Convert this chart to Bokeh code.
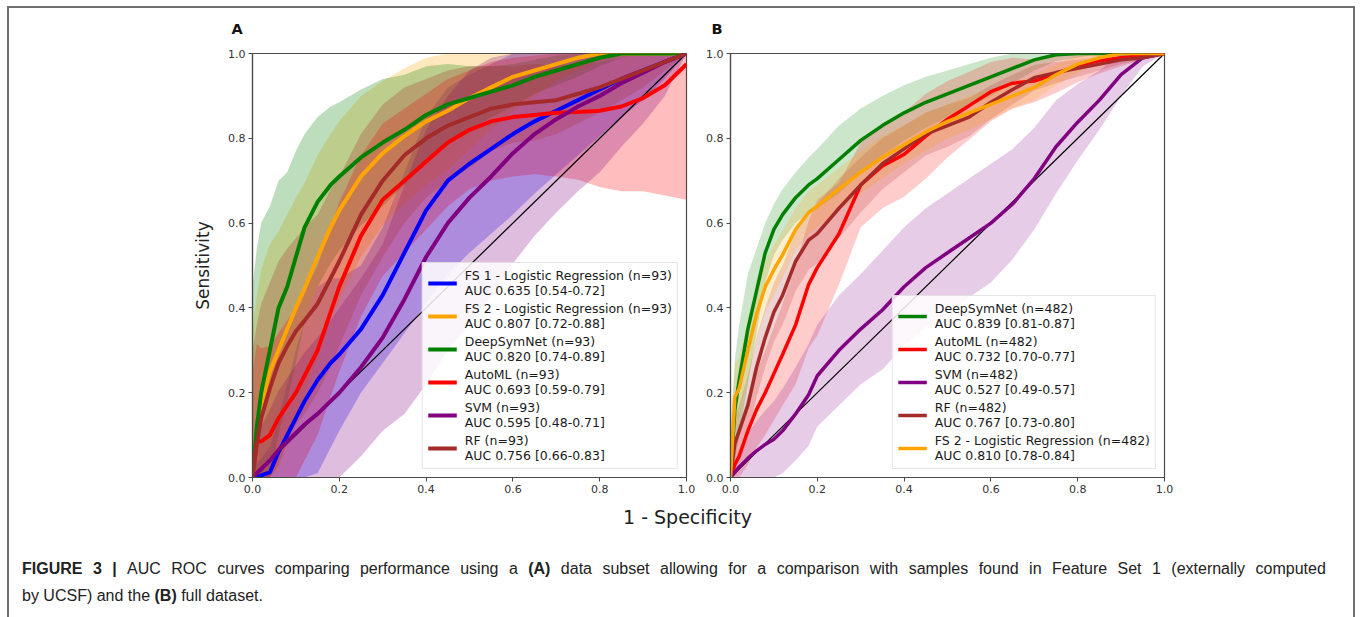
import numpy as np
from bokeh.plotting import figure
from bokeh.models import (Range1d, FixedTicker, PrintfTickFormatter, Legend,
                          LegendItem, Label, Div)
from bokeh.layouts import row, column
from bokeh.embed import file_html
from bokeh.resources import INLINE

# ---------------- data ----------------
fpr = [0, 0.01, 0.02, 0.04, 0.06, 0.08, 0.1, 0.12, 0.15, 0.18, 0.2, 0.25, 0.3,
       0.35, 0.4, 0.45, 0.5, 0.55, 0.6, 0.65, 0.7, 0.75, 0.8, 0.85, 0.9, 0.95, 1.0]
ticks = [0.0, 0.2, 0.4, 0.6, 0.8, 1.0]
chance = [0.0, 1.0]

# Panel A (n=93)
a_fs1 = [0, 0.003, 0.005, 0.012, 0.06, 0.1, 0.14, 0.18, 0.23, 0.27, 0.29, 0.35, 0.43,
         0.53, 0.63, 0.7, 0.74, 0.775, 0.81, 0.84, 0.865, 0.89, 0.915, 0.94, 0.96, 0.98, 1.0]
a_fs1_sd = [0.02, 0.03, 0.04, 0.06, 0.08, 0.12, 0.16, 0.19, 0.22, 0.2, 0.18, 0.15, 0.16,
            0.19, 0.22, 0.22, 0.21, 0.2, 0.19, 0.17, 0.15, 0.13, 0.11, 0.09, 0.07, 0.04, 0]
a_fs2 = [0, 0.1, 0.17, 0.25, 0.3, 0.35, 0.4, 0.445, 0.52, 0.59, 0.63, 0.71, 0.765,
         0.805, 0.84, 0.865, 0.895, 0.92, 0.945, 0.96, 0.975, 0.99, 1, 1, 1, 1, 1]
a_fs2_sd = [0.35, 0.33, 0.32, 0.3, 0.28, 0.27, 0.26, 0.25, 0.24, 0.22, 0.21, 0.19, 0.17,
            0.16, 0.15, 0.14, 0.12, 0.1, 0.08, 0.06, 0.04, 0.03, 0.02, 0.01, 0, 0, 0]
a_dsn = [0, 0.12, 0.2, 0.3, 0.4, 0.45, 0.52, 0.59, 0.65, 0.69, 0.71, 0.755, 0.79,
         0.82, 0.855, 0.88, 0.895, 0.91, 0.925, 0.945, 0.96, 0.975, 0.99, 1.0, 1.0, 1.0, 1.0]
a_dsn_sd = [0.45, 0.42, 0.4, 0.34, 0.3, 0.27, 0.25, 0.22, 0.2, 0.185, 0.175, 0.16, 0.15,
            0.13, 0.115, 0.095, 0.075, 0.06, 0.05, 0.04, 0.035, 0.03, 0.02, 0.01, 0, 0, 0]
a_aml = [0, 0.085, 0.085, 0.1, 0.14, 0.17, 0.2, 0.24, 0.3, 0.39, 0.45, 0.57, 0.655,
         0.7, 0.745, 0.79, 0.82, 0.84, 0.85, 0.855, 0.86, 0.862, 0.865, 0.875, 0.895, 0.925, 0.975]
a_aml_sd = [0.25, 0.23, 0.22, 0.21, 0.2, 0.2, 0.2, 0.2, 0.2, 0.2, 0.2, 0.19, 0.18,
            0.17, 0.16, 0.15, 0.14, 0.14, 0.14, 0.14, 0.15, 0.16, 0.18, 0.2, 0.22, 0.26, 0.32]
a_svm = [0, 0.01, 0.02, 0.04, 0.065, 0.085, 0.105, 0.125, 0.15, 0.18, 0.2, 0.26, 0.33,
         0.42, 0.52, 0.6, 0.66, 0.71, 0.765, 0.81, 0.845, 0.875, 0.9, 0.93, 0.955, 0.98, 1.0]
a_svm_sd = [0.05, 0.08, 0.1, 0.12, 0.14, 0.15, 0.16, 0.17, 0.18, 0.19, 0.2, 0.21, 0.22,
            0.27, 0.3, 0.3, 0.3, 0.28, 0.26, 0.24, 0.22, 0.2, 0.18, 0.15, 0.12, 0.08, 0]
a_rf = [0, 0.08, 0.14, 0.21, 0.27, 0.31, 0.345, 0.37, 0.41, 0.47, 0.51, 0.62, 0.7,
        0.76, 0.8, 0.83, 0.85, 0.87, 0.88, 0.885, 0.89, 0.905, 0.92, 0.94, 0.96, 0.98, 1.0]
a_rf_sd = [0.3, 0.28, 0.27, 0.25, 0.24, 0.23, 0.22, 0.22, 0.21, 0.21, 0.2, 0.19, 0.18,
           0.16, 0.14, 0.13, 0.12, 0.1, 0.09, 0.09, 0.08, 0.07, 0.06, 0.05, 0.04, 0.02, 0]

a_names = ["FS 1 - Logistic Regression (n=93)", "FS 2 - Logistic Regression (n=93)",
           "DeepSymNet (n=93)", "AutoML (n=93)", "SVM (n=93)", "RF (n=93)"]
a_auc = ["AUC 0.635 [0.54-0.72]", "AUC 0.807 [0.72-0.88]", "AUC 0.820 [0.74-0.89]",
         "AUC 0.693 [0.59-0.79]", "AUC 0.595 [0.48-0.71]", "AUC 0.756 [0.66-0.83]"]
a_colors = ["#0000ff", "#ffa500", "#008000", "#ff0000", "#800080", "#a52a2a"]

# Panel B (n=482)
b_dsn = [0, 0.16, 0.23, 0.35, 0.44, 0.53, 0.585, 0.62, 0.66, 0.69, 0.705, 0.75, 0.795,
         0.83, 0.86, 0.885, 0.905, 0.925, 0.945, 0.965, 0.985, 0.997, 1, 1, 1, 1, 1]
b_dsn_sd = [0.1, 0.12, 0.13, 0.13, 0.1, 0.07, 0.06, 0.06, 0.06, 0.065, 0.07, 0.08, 0.075,
            0.07, 0.065, 0.06, 0.055, 0.05, 0.045, 0.035, 0.025, 0.015, 0.01, 0, 0, 0, 0]
b_aml = [0, 0.03, 0.05, 0.11, 0.16, 0.2, 0.245, 0.29, 0.36, 0.455, 0.495, 0.575, 0.69,
         0.735, 0.762, 0.805, 0.845, 0.877, 0.91, 0.93, 0.935, 0.952, 0.972, 0.983, 0.99, 0.995, 1]
b_aml_sd = [0.04, 0.06, 0.07, 0.08, 0.09, 0.1, 0.11, 0.12, 0.14, 0.15, 0.16, 0.12, 0.1,
            0.1, 0.1, 0.1, 0.09, 0.08, 0.07, 0.06, 0.05, 0.045, 0.04, 0.03, 0.02, 0.01, 0]
b_svm = [0, 0.012, 0.025, 0.045, 0.063, 0.078, 0.09, 0.11, 0.15, 0.195, 0.24, 0.3, 0.35,
         0.395, 0.45, 0.495, 0.53, 0.565, 0.6, 0.645, 0.705, 0.78, 0.838, 0.89, 0.95, 0.99, 1]
b_svm_sd = [0.02, 0.03, 0.04, 0.06, 0.07, 0.08, 0.09, 0.1, 0.11, 0.12, 0.12, 0.13, 0.13,
            0.14, 0.14, 0.14, 0.14, 0.14, 0.14, 0.13, 0.12, 0.11, 0.09, 0.07, 0.05, 0.02, 0]
b_rf = [0, 0.08, 0.11, 0.17, 0.26, 0.33, 0.39, 0.43, 0.51, 0.56, 0.575, 0.635, 0.69,
        0.74, 0.775, 0.81, 0.83, 0.85, 0.885, 0.915, 0.943, 0.955, 0.965, 0.975, 0.985, 0.99, 1]
b_rf_sd = [0.06, 0.06, 0.06, 0.07, 0.07, 0.07, 0.07, 0.07, 0.07, 0.07, 0.07, 0.07, 0.065,
           0.06, 0.055, 0.05, 0.05, 0.045, 0.04, 0.035, 0.03, 0.025, 0.02, 0.015, 0.01, 0.005, 0]
b_fs2 = [0, 0.19, 0.21, 0.3, 0.385, 0.45, 0.49, 0.525, 0.585, 0.625, 0.64, 0.68, 0.72,
         0.755, 0.785, 0.815, 0.84, 0.86, 0.88, 0.9, 0.92, 0.95, 0.975, 0.99, 1, 1, 1]
b_fs2_sd = [0.1, 0.08, 0.07, 0.07, 0.06, 0.06, 0.06, 0.055, 0.05, 0.05, 0.05, 0.05, 0.05,
            0.05, 0.045, 0.045, 0.04, 0.04, 0.035, 0.03, 0.03, 0.025, 0.02, 0.01, 0, 0, 0]

b_names = ["DeepSymNet (n=482)", "AutoML (n=482)", "SVM (n=482)", "RF (n=482)",
           "FS 2 - Logistic Regression (n=482)"]
b_auc = ["AUC 0.839 [0.81-0.87]", "AUC 0.732 [0.70-0.77]", "AUC 0.527 [0.49-0.57]",
         "AUC 0.767 [0.73-0.80]", "AUC 0.810 [0.78-0.84]"]
b_colors = ["#008000", "#ff0000", "#800080", "#a52a2a", "#ffa500"]

panel_letters = ["A", "B"]

# caption: (text, bold) segments
caption_line1 = [("FIGURE 3 |", True),
                 ("AUC ROC curves comparing performance using a", False),
                 ("(A)", True),
                 ("data subset allowing for a comparison with samples found in Feature Set 1 (externally computed", False)]
caption_line2 = [("by UCSF) and the", False), ("(B)", True), ("full dataset.", False)]

FONT = "DejaVu Sans"
SPINE = "#4a4a4a"
TXT = "#333333"


def make_panel(means, sds, colors, names, aucs, width, left, right, lw,
               ylabel, band_alpha):
    p = figure(width=width, height=455, x_range=Range1d(0, 1), y_range=Range1d(0, 1),
               output_backend="svg", toolbar_location=None,
               min_border_left=left, min_border_right=right,
               min_border_top=9, min_border_bottom=22)
    p.background_fill_color = "white"
    p.border_fill_color = "white"
    p.outline_line_color = SPINE
    p.outline_line_width = 1.2
    p.xgrid.visible = False
    p.ygrid.visible = False
    for ax in (p.xaxis, p.yaxis):
        ax.ticker = FixedTicker(ticks=ticks)
        ax.formatter = PrintfTickFormatter(format="%.1f")
        ax.major_label_text_font = FONT
        ax.major_label_text_font_size = "11px"
        ax.major_label_text_color = TXT
        ax.major_tick_in = 0
        ax.major_tick_out = 4
        ax.minor_tick_in = 0
        ax.minor_tick_out = 0
        ax.axis_line_color = SPINE
        ax.axis_line_width = 1.2
        ax.major_tick_line_color = SPINE
        ax.major_label_standoff = 3
    if ylabel:
        p.yaxis.axis_label = ylabel
        p.yaxis.axis_label_text_font = FONT
        p.yaxis.axis_label_text_font_size = "17px"
        p.yaxis.axis_label_text_font_style = "normal"
        p.yaxis.axis_label_text_color = "#222222"
        p.yaxis.axis_label_standoff = 12

    x = np.array(fpr)
    for m, s, c in zip(means, sds, colors):
        m = np.array(m)
        s = np.array(s)
        p.varea(x=x, y1=np.clip(m - s, 0, 1), y2=np.clip(m + s, 0, 1),
                fill_color=c, fill_alpha=band_alpha)
    p.line(chance, chance, line_color="black", line_width=1.2)
    items = []
    for m, c, n, a in zip(means, colors, names, aucs):
        r = p.line(x, m, line_color=c, line_width=lw)
        items.append(LegendItem(label=n + "\n" + a, renderers=[r]))
    leg = Legend(items=items, location="bottom_right", margin=8, padding=5, spacing=3,
                 glyph_width=29, glyph_height=20, label_standoff=8,
                 label_text_font=FONT, label_text_font_size="12.5px",
                 label_text_color="#1a1a1a", label_text_line_height=1.2,
                 border_line_color="#cccccc", border_line_width=1,
                 background_fill_color="white", background_fill_alpha=0.85)
    p.add_layout(leg)
    return p


pA = make_panel([a_fs1, a_fs2, a_dsn, a_aml, a_svm, a_rf],
                [a_fs1_sd, a_fs2_sd, a_dsn_sd, a_aml_sd, a_svm_sd, a_rf_sd],
                a_colors, a_names, a_auc, 690, 243, 13, 4, "Sensitivity", 0.26)
pB = make_panel([b_dsn, b_aml, b_svm, b_rf, b_fs2],
                [b_dsn_sd, b_aml_sd, b_svm_sd, b_rf_sd, b_fs2_sd],
                b_colors, b_names, b_auc, 654, 31, 189, 3.5, None, 0.2)


def strip(width, height):
    f = figure(width=width, height=height, x_range=Range1d(0, width),
               y_range=Range1d(height, 0), output_backend="svg",
               toolbar_location=None, min_border=0,
               x_axis_location=None, y_axis_location=None)
    f.outline_line_color = None
    f.xgrid.visible = False
    f.ygrid.visible = False
    return f


# panel letters strip
letters = strip(1344, 36)
for lx, letter in zip([222, 702], panel_letters):
    letters.add_layout(Label(x=lx, y=20, text=letter, text_font=FONT,
                             text_font_size="14.5px", text_font_style="bold",
                             text_color="#111111", text_align="left",
                             text_baseline="middle"))

# shared x label
xl = strip(1344, 36)
xl.add_layout(Label(x=678, y=17, text="1 - Specificity", text_font=FONT,
                    text_font_size="19px", text_color="#222222",
                    text_align="center", text_baseline="middle"))


def words(segs):
    out = []
    for txt, bold in segs:
        for w in txt.split(" "):
            out.append("<b>%s</b>" % w if bold else w)
    return out


FS = "font-family:'Liberation Sans',Arial,sans-serif;font-size:16px;line-height:27px;color:#222;"
line1 = "".join("<span>%s</span>" % w for w in words(caption_line1))
line2 = " ".join(words(caption_line2))
cap_html = ('<div style="padding:15px 0 0 8px;' + FS + '">'
            '<div style="width:1304px;white-space:nowrap;display:flex;'
            'justify-content:space-between">' + line1 + '</div>'
            '<div style="white-space:nowrap">' + line2 + '</div></div>')
cap = Div(text=cap_html, width=1344, height=74)

BORDER = "#6f6f6f"
layout = column(letters, row(pA, pB), xl, cap,
                styles={"border-top": "2px solid " + BORDER,
                        "border-left": "2px solid " + BORDER,
                        "border-right": "2px solid " + BORDER,
                        "border-bottom": "none",
                        "box-sizing": "content-box",
                        "width": "1344px",
                        "margin-left": "7px",
                        "margin-top": "6px"})

open("out.html", "w").write(file_html(layout, INLINE))
